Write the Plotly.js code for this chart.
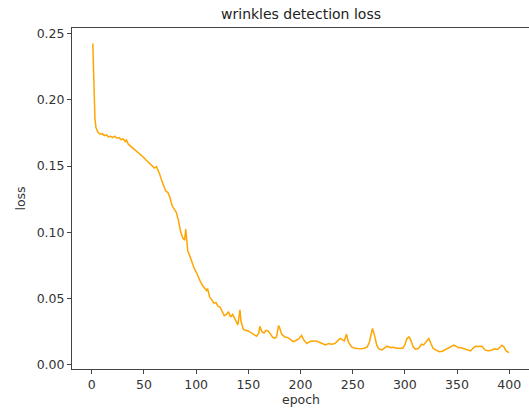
<!DOCTYPE html>
<html>
<head>
<meta charset="utf-8">
<script src="https://cdn.plot.ly/plotly-3.0.1.min.js"></script>
<style>
html,body{margin:0;padding:0;overflow:hidden;background:#fff;}
#chart{width:540px;height:409px;}
</style>
</head>
<body>
<div id="chart"></div>
<script>
const epochs = [1,2,3,4,5,6,8,10,12,14,16,18,20,22,24,26,28,30,32,33,35,38,40,43,46,49,52,55,58,60,62,63,65,67,69,71,73,75,77,79,81,83,85,87,89,90,92,94,96,98,100,102,104,106,108,110,111,113,115,117,119,121,123,125,127,129,131,133,135,137,139,140,142,143,145,147,150,153,155,158,160,161,163,165,167,169,171,173,175,177,179,180,182,185,188,190,193,196,199,201,203,206,209,212,215,218,221,224,227,230,233,236,238,240,242,244,246,249,252,255,258,261,264,266,268,269,271,273,275,278,281,283,286,289,292,295,298,300,302,304,306,308,310,313,316,318,320,322,323,325,327,330,333,336,339,342,345,347,349,351,354,357,360,363,366,368,371,374,377,380,383,386,389,391,393,395,397,399,400];
const loss = [0.2425,0.212,0.186,0.179,0.177,0.1755,0.174,0.1745,0.173,0.1735,0.172,0.1725,0.1715,0.1725,0.171,0.1715,0.170,0.1705,0.1685,0.170,0.1665,0.1645,0.163,0.1615,0.159,0.157,0.1545,0.1525,0.150,0.1485,0.1495,0.148,0.144,0.139,0.135,0.131,0.130,0.126,0.120,0.117,0.115,0.109,0.101,0.096,0.094,0.1025,0.086,0.082,0.077,0.073,0.070,0.066,0.063,0.060,0.058,0.056,0.0575,0.051,0.049,0.0465,0.047,0.044,0.0435,0.040,0.037,0.038,0.040,0.036,0.038,0.035,0.031,0.030,0.0415,0.033,0.027,0.026,0.0255,0.024,0.0235,0.0215,0.024,0.029,0.025,0.024,0.026,0.0255,0.0235,0.021,0.020,0.021,0.0295,0.028,0.023,0.021,0.0205,0.019,0.0175,0.0185,0.020,0.0222,0.019,0.016,0.0175,0.018,0.018,0.017,0.016,0.015,0.016,0.0155,0.016,0.0185,0.0198,0.019,0.018,0.023,0.017,0.0135,0.0125,0.0122,0.012,0.0125,0.0135,0.017,0.025,0.0274,0.022,0.015,0.012,0.0112,0.013,0.014,0.013,0.0132,0.0125,0.0125,0.0124,0.015,0.0198,0.021,0.018,0.0135,0.0118,0.0122,0.0155,0.015,0.017,0.019,0.0198,0.016,0.0125,0.011,0.0098,0.0102,0.0115,0.0125,0.0135,0.0148,0.014,0.013,0.0128,0.012,0.011,0.0105,0.013,0.014,0.0138,0.014,0.011,0.0105,0.011,0.012,0.0115,0.0135,0.0148,0.0135,0.0105,0.0095,0.0092];
const xTicks = [0,50,100,150,200,250,300,350,400];
const yTicks = [0,0.05,0.10,0.15,0.20,0.25];
const yTickText = ["0.00","0.05","0.10","0.15","0.20","0.25"];

const font = {family:"DejaVu Sans", size:12.5, color:"#333"};
const axisCommon = {
  showgrid:false, zeroline:false, showline:true, linecolor:"#444", linewidth:1,
  mirror:true, ticks:"outside", ticklen:4, tickwidth:1, tickcolor:"#444",
  tickfont:font
};
const trace = {x:epochs, y:loss, type:"scatter", mode:"lines",
  line:{color:"#FFA500", width:1.5}, hoverinfo:"none"};
const layout = {
  width:540, height:409,
  margin:{l:72, r:10, t:28, b:40},
  paper_bgcolor:"#fff", plot_bgcolor:"#fff",
  showlegend:false,
  title:{text:"wrinkles detection loss", x:0.5, xref:"paper", xanchor:"center",
    y:1-14/409, yref:"container", yanchor:"middle",
    font:{family:"DejaVu Sans", size:14, color:"#222"}},
  xaxis:Object.assign({}, axisCommon, {range:[-18.95,419.95], tickvals:xTicks,
    ticktext:xTicks.map(String),
    title:{text:"epoch", font:{family:"DejaVu Sans", size:12.5, color:"#333"}, standoff:4}}),
  yaxis:Object.assign({}, axisCommon, {range:[-0.0032,0.2542], tickvals:yTicks,
    ticktext:yTickText,
    title:{text:"loss", font:{family:"DejaVu Sans", size:12.5, color:"#333"}, standoff:8}})
};
Plotly.newPlot("chart", [trace], layout, {staticPlot:true, displayModeBar:false});
</script>
</body>
</html>
